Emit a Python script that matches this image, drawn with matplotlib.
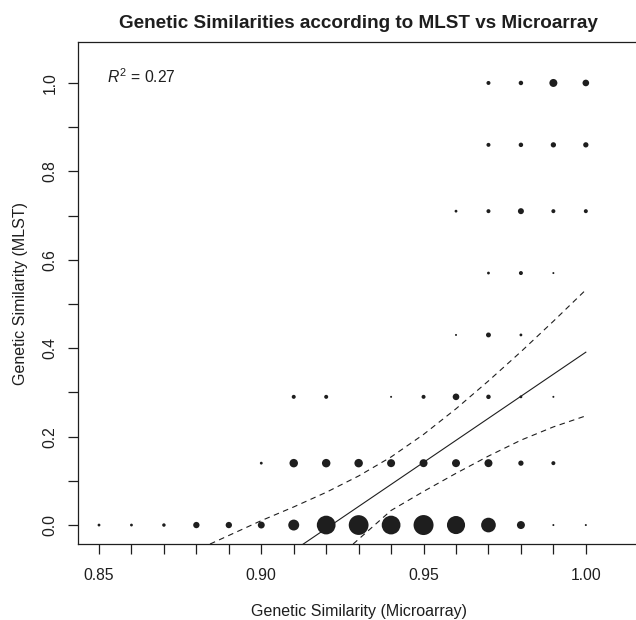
import matplotlib
matplotlib.use("Agg")
import matplotlib.pyplot as plt
import numpy as np

plt.rcParams['font.family'] = 'Liberation Sans'
plt.rcParams['mathtext.fontset'] = 'custom'
plt.rcParams['mathtext.rm'] = 'Liberation Sans'
plt.rcParams['mathtext.it'] = 'Liberation Sans:italic'

# microarray similarity levels (x) and MLST similarity levels (y)
micro_x = [0.85, 0.86, 0.87, 0.88, 0.89, 0.90, 0.91, 0.92,
           0.93, 0.94, 0.95, 0.96, 0.97, 0.98, 0.99, 1.00]
mlst_y = [0.00, 0.14, 0.29, 0.43, 0.57, 0.71, 0.86, 1.00]

# number of pairs at each (x, y) cell, one list per MLST level
n_000 = [2, 2, 3, 10, 10, 12, 30, 88, 98, 88, 100, 82, 54, 16, 1, 1]
n_014 = [0, 0, 0, 0, 0, 2, 18, 18, 18, 16, 16, 16, 16, 7, 4, 0]
n_029 = [0, 0, 0, 0, 0, 0, 4, 4, 0, 1, 4, 11, 5, 2, 1, 0]
n_043 = [0, 0, 0, 0, 0, 0, 0, 0, 0, 0, 0, 1, 6, 2, 0, 0]
n_057 = [0, 0, 0, 0, 0, 0, 0, 0, 0, 0, 0, 0, 2, 4, 1, 0]
n_071 = [0, 0, 0, 0, 0, 0, 0, 0, 0, 0, 0, 2, 4, 9, 4, 4]
n_086 = [0, 0, 0, 0, 0, 0, 0, 0, 0, 0, 0, 0, 4, 5, 7, 7]
n_100 = [0, 0, 0, 0, 0, 0, 0, 0, 0, 0, 0, 0, 4, 5, 16, 11]
counts = [n_000, n_014, n_029, n_043, n_057, n_071, n_086, n_100]

# regression line and confidence band
fit_slope = 4.985
fit_intercept = -4.594
fit_range = [0.85, 1.00]
r2 = 0.27

upper_x = [0.8842, 0.90, 0.91, 0.92, 0.93, 0.94, 0.95, 0.96, 0.97, 0.98, 0.99, 1.00]
upper_y = [-0.043, 0.010, 0.041, 0.074, 0.111, 0.154, 0.205, 0.263, 0.326, 0.392, 0.461, 0.532]
lower_x = [0.9283, 0.94, 0.95, 0.96, 0.97, 0.98, 0.99, 1.00]
lower_y = [-0.043, 0.033, 0.076, 0.117, 0.156, 0.192, 0.222, 0.247]

x_major = [0.85, 0.90, 0.95, 1.00]
y_major = [0.0, 0.2, 0.4, 0.6, 0.8, 1.0]
y_minor = [0.1, 0.3, 0.5, 0.7, 0.9]

ink = '#1e1e1e'

fig = plt.figure(figsize=(6.36, 6.2), dpi=100)
ax = fig.add_axes([0.123, 0.1232, 0.8818, 0.8086])

xs = np.array(micro_x)
for yv, row in zip(mlst_y, counts):
    row = np.array(row, dtype=float)
    m = row > 0
    ax.scatter(xs[m], np.full(m.sum(), yv), s=2.07 * row[m], c=ink,
               linewidths=0, zorder=3)

fx = np.array(fit_range)
ax.plot(fx, fit_intercept + fit_slope * fx, color=ink, lw=0.8, zorder=2)
ax.plot(upper_x, upper_y, color=ink, lw=0.8, dashes=(5, 4), zorder=2)
ax.plot(lower_x, lower_y, color=ink, lw=0.8, dashes=(5, 4), zorder=2)

ax.text(0.8525, 1.0, r'$R^{2}$ = %.2f' % r2, fontsize=11.3, color=ink,
        ha='left', va='baseline')

ax.set_xlim(0.8436, 1.0164)
ax.set_ylim(-0.042, 1.092)

ax.set_xticks(x_major)
ax.set_xticklabels(['%.2f' % v for v in x_major])
ax.set_xticks(micro_x, minor=True)
ax.set_yticks(y_major)
ax.set_yticklabels(['%.1f' % v for v in y_major])
ax.set_yticks(y_minor, minor=True)

ax.tick_params(which='both', direction='out', length=7.2, width=0.9,
               color=ink, labelsize=11.3, labelcolor=ink)
ax.tick_params(axis='x', which='major', pad=10)
ax.tick_params(axis='y', which='major', pad=7.5, labelrotation=90)
for lab in ax.get_yticklabels():
    lab.set_va('center')

for sp in ax.spines.values():
    sp.set_color(ink)
    sp.set_linewidth(0.9)

fig.text(0.5638, 0.9548, 'Genetic Similarities according to MLST vs Microarray',
         ha='center', va='baseline', fontsize=13.6, fontweight='bold', color=ink)
fig.text(0.5638, 0.0065, 'Genetic Similarity (Microarray)',
         ha='center', va='baseline', fontsize=11.5, color=ink)
fig.text(25 / 636, 0.5274, 'Genetic Similarity (MLST)', rotation=90,
         rotation_mode='anchor', ha='center', va='baseline', fontsize=11.5, color=ink)

fig.savefig('out.png', dpi=100)
